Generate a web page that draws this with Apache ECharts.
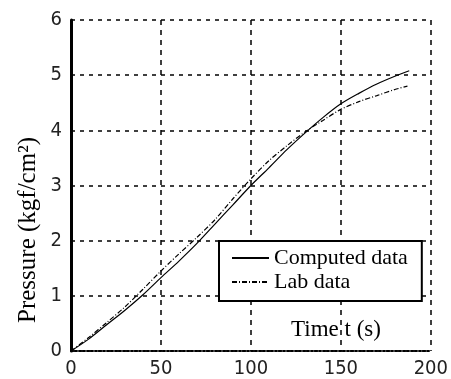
<!DOCTYPE html>
<html>
<head>
<meta charset="utf-8">
<script src="https://cdn.jsdelivr.net/npm/echarts@6/dist/echarts.min.js"></script>
<style>
html,body{margin:0;padding:0;background:#fff;}
#chart{width:451px;height:379px;}
</style>
</head>
<body>
<div id="chart"></div>
<script>
// Data
var timeComputed = [0, 10, 20, 30, 40, 50, 60, 70, 80, 90, 100, 110, 120, 130, 140, 150, 160, 170, 180, 188];
var pressureComputed = [0, 0.22, 0.48, 0.74, 1.02, 1.33, 1.63, 1.95, 2.30, 2.65, 3.00, 3.32, 3.65, 3.95, 4.23, 4.48, 4.67, 4.84, 4.98, 5.08];
var timeLab = [0, 10, 20, 30, 40, 50, 60, 70, 80, 90, 100, 110, 120, 130, 140, 150, 160, 170, 180, 187];
var pressureLab = [0, 0.25, 0.52, 0.80, 1.12, 1.45, 1.76, 2.06, 2.38, 2.76, 3.12, 3.45, 3.72, 3.97, 4.18, 4.38, 4.52, 4.63, 4.74, 4.80];
var xTicks = [0, 50, 100, 150, 200];
var yTicks = [0, 1, 2, 3, 4, 5, 6];
var seriesNames = ['Computed data', 'Lab data'];
var xLabel = 'Time t (s)';
var yLabel = 'Pressure (kgf/cm\u00B2)';

function pairs(xs, ys) { return xs.map(function (x, i) { return [x, ys[i]]; }); }

var tickFont = "'Liberation Sans Narrow', 'DejaVu Sans Condensed', sans-serif";
var serifFont = "'Liberation Serif', 'DejaVu Serif', serif";

var chart = echarts.init(document.getElementById('chart'), null, {renderer: 'canvas'});
chart.setOption({
  animation: false,
  backgroundColor: '#fff',
  grid: {left: 71, right: 15, top: 20, bottom: 28, containLabel: false},
  xAxis: {
    type: 'value', min: xTicks[0], max: xTicks[xTicks.length - 1], interval: 50,
    axisLine: {show: true, onZero: false, lineStyle: {color: '#000', width: 2, type: 'dotted'}},
    axisTick: {show: false},
    axisLabel: {margin: 8, color: '#222', fontFamily: tickFont, fontSize: 20},
    splitLine: {show: true, lineStyle: {color: '#000', width: 1.5, type: [5, 5]}}
  },
  yAxis: {
    type: 'value', min: yTicks[0], max: yTicks[yTicks.length - 1], interval: 1,
    axisLine: {show: true, lineStyle: {color: '#000', width: 3}},
    axisTick: {show: false},
    axisLabel: {margin: 9, color: '#222', fontFamily: tickFont, fontSize: 20},
    splitLine: {show: true, lineStyle: {color: '#000', width: 1.5, type: [4, 5]}}
  },
  legend: {
    orient: 'vertical', left: 219, top: 241,
    itemWidth: 37, itemHeight: 12, itemGap: 2,
    backgroundColor: '#fff', borderColor: '#000', borderWidth: 2, borderRadius: 0,
    padding: [6, 14, 8, 12],
    itemStyle: {opacity: 0},
    textStyle: {fontFamily: serifFont, fontSize: 22, color: '#000', lineHeight: 22},
    data: seriesNames
  },
  series: [
    {
      name: seriesNames[0], type: 'line', symbol: 'none', showSymbol: false, smooth: 0.3,
      itemStyle: {color: '#000'},
      lineStyle: {color: '#000', width: 1.2, type: 'solid'},
      data: pairs(timeComputed, pressureComputed)
    },
    {
      name: seriesNames[1], type: 'line', symbol: 'none', showSymbol: false, smooth: 0.3,
      itemStyle: {color: '#000'},
      lineStyle: {color: '#000', width: 1.2, type: [5, 2, 1, 2]},
      data: pairs(timeLab, pressureLab)
    }
  ],
  graphic: [
    {
      type: 'text', x: 336, y: 330, z: 10,
      style: {text: xLabel, fontFamily: serifFont, fontSize: 23, fill: '#000', textAlign: 'center', textVerticalAlign: 'middle'}
    },
    {
      type: 'text', x: 28, y: 230, rotation: Math.PI / 2, z: 10,
      style: {text: yLabel, fontFamily: serifFont, fontSize: 25, fill: '#000', textAlign: 'center', textVerticalAlign: 'middle'}
    }
  ]
});
</script>
</body>
</html>
